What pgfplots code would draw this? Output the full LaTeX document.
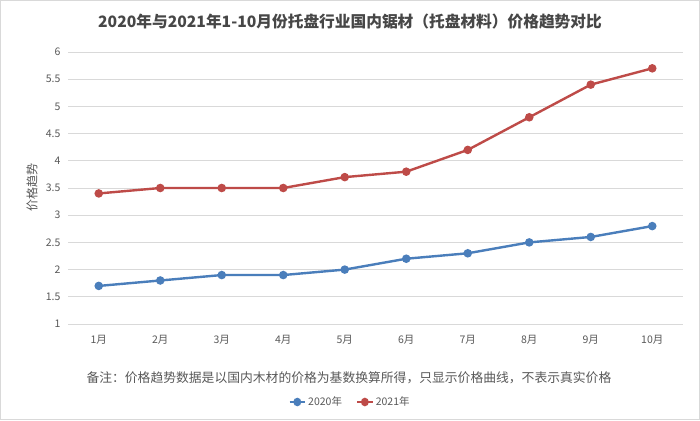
\documentclass[border=0pt]{standalone}
\usepackage{fontspec}
\setmainfont{Noto Sans CJK SC}
\usepackage{pgfplots}
\pgfplotsset{compat=1.18}
\definecolor{blue2020}{HTML}{4A7EBB}
\definecolor{red2021}{HTML}{BE4B48}
\definecolor{gridgray}{HTML}{D9D9D9}
\definecolor{txtgray}{HTML}{595959}
\begin{document}
\begin{tikzpicture}[x=1pt,y=1pt]
  \draw[gridgray, line width=1pt, fill=white] (0.5,0.5) rectangle (699.5,419.5);
  \node[font=\fontsize{15.7}{17}\selectfont\bfseries, text=txtgray!80!black] at (350,398) {2020年与2021年1-10月份托盘行业国内锯材（托盘材料）价格趋势对比};
  \begin{axis}[
      ,at             = {(68pt,96pt)}
      ,anchor         = south west
      ,scale only axis
      ,width          = 615pt
      ,height         = 272pt
      ,xmin           = 0.5
      ,xmax           = 10.5
      ,ymin           = 1
      ,ymax           = 6
      ,xtick          = {1,...,10}
      ,xticklabels    = {1月,2月,3月,4月,5月,6月,7月,8月,9月,10月}
      ,ytick          = {1,1.5,...,6}
      ,yticklabels    = {1,1.5,2,2.5,3,3.5,4,4.5,5,5.5,6}
      ,axis line style= {draw=none}
      ,major tick length = 0pt
      ,ymajorgrids    = true
      ,grid style     = {gridgray, line width=0.9pt}
      ,tick label style = {font=\fontsize{10.5}{12}\selectfont, text=txtgray}
      ,xticklabel style = {yshift=-8pt}
      ,yticklabel style = {xshift=-4pt}
      ,/pgf/number format/assume math mode=true
      ,ylabel         = {价格趋势}
      ,ylabel style   = {font=\fontsize{12}{13}\selectfont, text=txtgray, at={(-36pt,136pt)}, anchor=center}
      ,legend style   = {draw=none, fill=none, at={(282pt,-78pt)}, anchor=center,
                         legend columns=2, font=\fontsize{10.5}{12}\selectfont, text=txtgray,
                         /tikz/every even column/.append style={column sep=12pt}}
      ,legend image post style = {xscale=0.9}
      ,clip           = false
      ]
    \addplot [blue2020, line width=2.4pt, mark=*, mark size=3pt] coordinates {
      (1,1.7) (2,1.8) (3,1.9) (4,1.9) (5,2.0) (6,2.2) (7,2.3) (8,2.5) (9,2.6) (10,2.8)};
    \addlegendentry{2020年}
    \addplot [red2021, line width=2.4pt, mark=*, mark size=3pt] coordinates {
      (1,3.4) (2,3.5) (3,3.5) (4,3.5) (5,3.7) (6,3.8) (7,4.2) (8,4.8) (9,5.4) (10,5.7)};
    \addlegendentry{2021年}
  \end{axis}
  \node[anchor=west, font=\fontsize{12.8}{14}\selectfont, text=txtgray] at (83,42) {备注：价格趋势数据是以国内木材的价格为基数换算所得，只显示价格曲线，不表示真实价格};
\end{tikzpicture}
\end{document}
